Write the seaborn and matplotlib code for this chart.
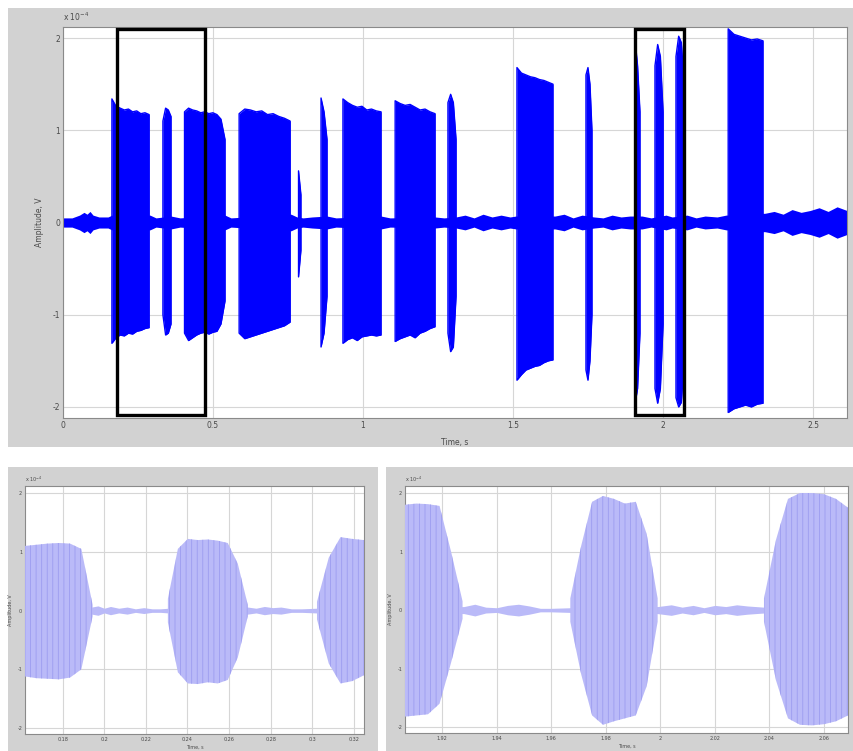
import numpy as np
import pandas as pd
import matplotlib
matplotlib.use("Agg")
import matplotlib.pyplot as plt
from matplotlib.patches import Rectangle
import seaborn as sns

# ---------------- full recording (amplitude in units of 1e-4 V) ----------------
burst_on = [0.163, 0.333, 0.405, 0.587, 0.785, 0.860, 0.933, 1.107, 1.283,
            1.513, 1.743, 1.907, 1.973, 2.043, 2.217]
burst_off = [0.287, 0.360, 0.540, 0.757, 0.793, 0.880, 1.060, 1.240, 1.310,
             1.633, 1.763, 1.923, 2.000, 2.070, 2.333]
burst_upper = [
    [1.34, 1.26, 1.24, 1.22, 1.23, 1.20, 1.21, 1.18, 1.19, 1.17],
    [1.10, 1.24, 1.22, 1.15],
    [1.20, 1.24, 1.22, 1.21, 1.19, 1.20, 1.18, 1.19, 1.17, 1.12, 0.90],
    [1.18, 1.23, 1.22, 1.20, 1.21, 1.17, 1.18, 1.15, 1.13, 1.10],
    [0.56, 0.30],
    [1.35, 1.20, 0.90],
    [1.34, 1.30, 1.27, 1.25, 1.26, 1.22, 1.23, 1.21, 1.20],
    [1.32, 1.29, 1.27, 1.28, 1.25, 1.22, 1.23, 1.20, 1.18],
    [1.30, 1.39, 1.30, 0.90],
    [1.68, 1.62, 1.60, 1.58, 1.57, 1.55, 1.54, 1.52, 1.50],
    [1.60, 1.68, 1.50, 1.00],
    [1.97, 1.70, 1.20],
    [1.70, 1.93, 1.80, 1.20],
    [1.80, 2.02, 1.95, 1.50],
    [2.10, 2.04, 2.02, 2.00, 1.98, 1.99, 1.97],
]
burst_lower = [
    [-1.31, -1.25, -1.22, -1.23, -1.20, -1.21, -1.18, -1.17, -1.15, -1.14],
    [-1.00, -1.22, -1.20, -1.10],
    [-1.20, -1.28, -1.25, -1.22, -1.20, -1.19, -1.21, -1.19, -1.18, -1.10, -0.85],
    [-1.20, -1.26, -1.24, -1.22, -1.20, -1.18, -1.16, -1.14, -1.12, -1.08],
    [-0.59, -0.30],
    [-1.35, -1.20, -0.80],
    [-1.31, -1.27, -1.25, -1.28, -1.24, -1.23, -1.22, -1.23, -1.22],
    [-1.29, -1.26, -1.24, -1.22, -1.25, -1.20, -1.18, -1.15, -1.13],
    [-1.20, -1.40, -1.35, -0.80],
    [-1.71, -1.65, -1.60, -1.58, -1.56, -1.55, -1.52, -1.50, -1.49],
    [-1.60, -1.71, -1.50, -1.00],
    [-1.96, -1.80, -1.20],
    [-1.80, -1.96, -1.80, -1.10],
    [-1.90, -2.00, -1.95, -1.50],
    [-2.06, -2.02, -2.00, -1.98, -2.00, -1.97, -1.96],
]
noise_t = [0.00, 0.03, 0.055, 0.07, 0.08, 0.09, 0.10, 0.12, 0.15, 0.163,
           0.29, 0.31, 0.36, 0.39, 0.54, 0.56, 0.76, 0.78, 0.80, 0.83,
           0.88, 0.91, 1.06, 1.09, 1.24, 1.27, 1.31, 1.34, 1.37, 1.40,
           1.43, 1.46, 1.49, 1.51, 1.64, 1.67, 1.70, 1.73, 1.77, 1.80,
           1.83, 1.86, 1.89, 1.93, 1.96, 2.01, 2.03, 2.08, 2.11, 2.14,
           2.18, 2.21, 2.34, 2.37, 2.40, 2.43, 2.46, 2.49, 2.52, 2.55,
           2.58, 2.613]
noise_amp = [0.05, 0.05, 0.08, 0.11, 0.09, 0.12, 0.08, 0.06, 0.06, 0.08,
             0.08, 0.05, 0.07, 0.05, 0.08, 0.05, 0.09, 0.06, 0.05, 0.06,
             0.07, 0.05, 0.07, 0.05, 0.06, 0.05, 0.06, 0.08, 0.05, 0.09,
             0.06, 0.08, 0.06, 0.07, 0.07, 0.09, 0.05, 0.08, 0.06, 0.05,
             0.08, 0.06, 0.07, 0.07, 0.05, 0.08, 0.06, 0.08, 0.05, 0.07,
             0.06, 0.08, 0.10, 0.12, 0.09, 0.14, 0.11, 0.13, 0.16, 0.12,
             0.17, 0.13]
main_xticks = [0, 0.5, 1, 1.5, 2, 2.5]
amp_ticks = [-2, -1, 0, 1, 2]
box_start = [0.180, 1.907]
box_end = [0.472, 2.070]
box_low, box_high = -2.09, 2.10

# ---------------- left detail view ----------------
left_on = [0.1619, 0.2306, 0.3023]
left_off = [0.1944, 0.2690, 0.3249]
left_upper = [
    [1.10, 1.12, 1.14, 1.15, 1.14, 1.05, 0.10],
    [0.20, 1.05, 1.22, 1.20, 1.21, 1.19, 1.15, 0.80, 0.10],
    [0.15, 0.90, 1.25, 1.22, 1.20],
]
left_lower = [
    [-1.12, -1.15, -1.16, -1.17, -1.14, -1.00, -0.10],
    [-0.20, -1.05, -1.24, -1.25, -1.22, -1.24, -1.18, -0.80, -0.10],
    [-0.15, -0.90, -1.24, -1.20, -1.10],
]
left_noise_t = [0.1619, 0.194, 0.197, 0.200, 0.203, 0.207, 0.211, 0.215, 0.219,
                0.223, 0.227, 0.231, 0.269, 0.273, 0.277, 0.281, 0.285, 0.290,
                0.295, 0.302, 0.3249]
left_noise_amp = [0.03, 0.06, 0.08, 0.04, 0.07, 0.04, 0.06, 0.03, 0.05,
                  0.03, 0.03, 0.04, 0.06, 0.04, 0.07, 0.05, 0.06, 0.03,
                  0.03, 0.04, 0.03]
left_xticks = [0.18, 0.20, 0.22, 0.24, 0.26, 0.28, 0.30, 0.32]

# ---------------- right detail view ----------------
right_on = [1.9064, 1.967, 2.038]
right_off = [1.9275, 1.999, 2.0688]
right_upper = [
    [1.80, 1.82, 1.81, 1.78, 1.00, 0.15],
    [0.20, 1.10, 1.85, 1.95, 1.90, 1.82, 1.85, 1.30, 0.20],
    [0.20, 1.20, 1.90, 2.00, 2.00, 1.98, 1.90, 1.75],
]
right_lower = [
    [-1.82, -1.80, -1.78, -1.60, -0.90, -0.15],
    [-0.20, -1.10, -1.80, -1.96, -1.90, -1.85, -1.80, -1.30, -0.20],
    [-0.20, -1.20, -1.85, -1.96, -1.97, -1.95, -1.90, -1.80],
]
right_noise_t = [1.9064, 1.928, 1.932, 1.936, 1.940, 1.944, 1.948, 1.952, 1.956,
                 1.960, 1.967, 1.999, 2.004, 2.008, 2.012, 2.016, 2.020, 2.024,
                 2.028, 2.032, 2.038, 2.0688]
right_noise_amp = [0.03, 0.06, 0.10, 0.05, 0.04, 0.08, 0.10, 0.07, 0.03,
                   0.03, 0.04, 0.06, 0.09, 0.05, 0.08, 0.04, 0.08, 0.06,
                   0.09, 0.07, 0.05, 0.03]
right_xticks = [1.92, 1.94, 1.96, 1.98, 2.00, 2.02, 2.04, 2.06]

# ---------------------------------------------------------------
sns.set_theme(style="whitegrid")
plt.rcParams["font.family"] = ["DejaVu Sans"]
plt.rcParams["hatch.linewidth"] = 0.6

W, H = 854, 751
fig = plt.figure(figsize=(W / 100, H / 100), dpi=100)
fig.patch.set_facecolor("white")

PANEL_GRAY = "#d2d2d2"


def panel_bg(x0, y0, x1, y1):
    fig.patches.append(Rectangle((x0 / W, 1 - y1 / H), (x1 - x0) / W, (y1 - y0) / H,
                                 transform=fig.transFigure, facecolor=PANEL_GRAY,
                                 edgecolor="none", zorder=-5))


def add_axes_px(x0, y0, x1, y1):
    return fig.add_axes([x0 / W, 1 - y1 / H, (x1 - x0) / W, (y1 - y0) / H])


def burst_frame(on, off, up, lo):
    t = [on] + list(np.linspace(on, off, len(up))) + [off]
    return pd.DataFrame({"t": t, "upper": [0.0] + up + [0.0],
                         "lower": [0.0] + lo + [0.0]})


def style_axes(ax, xticks, xlim, ylim, fs, labelpad_y, labelpad_x, mult_fs):
    ax.set_facecolor("white")
    ax.set_xlim(*xlim)
    ax.set_ylim(*ylim)
    ax.set_xticks(xticks)
    ax.set_xticklabels(["%g" % v for v in xticks])
    ax.set_yticks(amp_ticks)
    ax.set_yticklabels(["%g" % v for v in amp_ticks])
    ax.grid(True, color="#d6d6d6", linewidth=0.8, linestyle="-")
    ax.set_axisbelow(True)
    for s in ax.spines.values():
        s.set_color("#8a8a8a")
        s.set_linewidth(0.8)
    ax.tick_params(direction="in", length=3, width=0.6, color="#8a8a8a",
                   labelsize=fs, labelcolor="#4a4a4a", pad=2)
    ax.set_xlabel("Time, s", fontsize=fs, color="#4a4a4a", labelpad=labelpad_x)
    ax.set_ylabel("Amplitude, V", fontsize=fs, color="#4a4a4a", labelpad=labelpad_y)
    ax.text(0.0, 1.01, r"x 10$^{-4}$", transform=ax.transAxes, fontsize=mult_fs,
            color="#4a4a4a", ha="left", va="bottom")


# backgrounds
panel_bg(8, 8, 854, 447)
panel_bg(8, 467, 378, 751)
panel_bg(386, 467, 854, 751)

# ---------------- top: full recording ----------------
ax = add_axes_px(63, 27, 847, 418)
BLUE = "#0000ff"
nt = np.array(noise_t)
na = np.array(noise_amp)
ax.fill_between(nt, -na, na, color=BLUE, linewidth=0, zorder=2)
for on, off, up, lo in zip(burst_on, burst_off, burst_upper, burst_lower):
    d = burst_frame(on, off, up, lo)
    ax.fill_between(d["t"], d["lower"], d["upper"], color=BLUE, linewidth=0, zorder=3)
    sns.lineplot(data=d, x="t", y="upper", ax=ax, color=BLUE, lw=1.0,
                 sort=False, estimator=None, zorder=3)
    sns.lineplot(data=d, x="t", y="lower", ax=ax, color=BLUE, lw=1.0,
                 sort=False, estimator=None, zorder=3)
for b0, b1 in zip(box_start, box_end):
    ax.add_patch(Rectangle((b0, box_low), b1 - b0, box_high - box_low,
                           fill=False, edgecolor="black", linewidth=2.4, zorder=5))
style_axes(ax, main_xticks, (0, 2.613), (-2.12, 2.12), 5.5, 6, 6, 5.5)

# ---------------- bottom: detail views ----------------
LIGHT = "#babaf8"
STRIPE = "#9c9cf0"


def detail(ax, on_l, off_l, up_l, lo_l, n_t, n_a, xticks, xlim):
    n_t = np.array(n_t)
    n_a = np.array(n_a)
    ax.fill_between(n_t, -n_a, n_a, color=LIGHT, linewidth=0, zorder=2)
    for on, off, up, lo in zip(on_l, off_l, up_l, lo_l):
        d = burst_frame(on, off, up, lo)
        ax.fill_between(d["t"], d["lower"], d["upper"], facecolor=LIGHT,
                        edgecolor=STRIPE, hatch="|||", linewidth=0, zorder=3)
    style_axes(ax, xticks, xlim, (-2.1, 2.12), 3.5, 3, 2, 3.5)


axl = add_axes_px(25, 486, 364, 734)
detail(axl, left_on, left_off, left_upper, left_lower, left_noise_t,
       left_noise_amp, left_xticks, (0.1619, 0.3249))

axr = add_axes_px(405, 486, 848, 733)
detail(axr, right_on, right_off, right_upper, right_lower, right_noise_t,
       right_noise_amp, right_xticks, (1.9064, 2.0688))

fig.savefig("out.png", dpi=100, facecolor=fig.get_facecolor())
